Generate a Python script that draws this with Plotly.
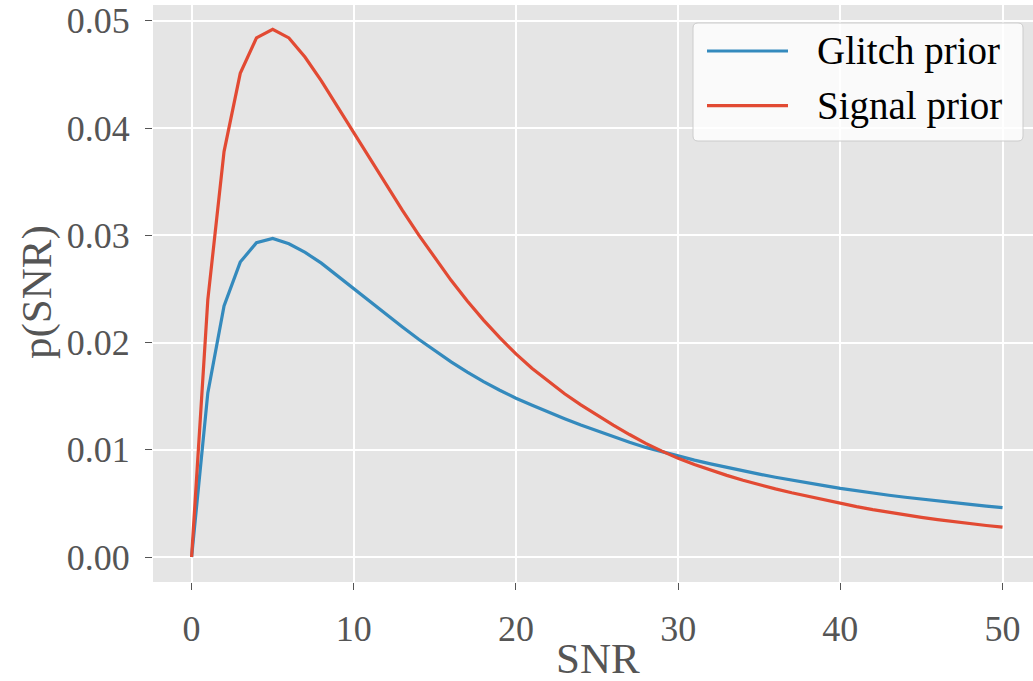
import plotly.graph_objects as go

snr = list(range(0, 51))

glitch_prior = [
    0.0, 0.0153, 0.0234, 0.0275, 0.0293, 0.0297, 0.0292, 0.0284, 0.0274, 0.0262,
    0.02500, 0.02380, 0.02260, 0.02145, 0.02030, 0.01925, 0.01820, 0.01725, 0.01635, 0.01555,
    0.01480, 0.01415, 0.01350, 0.01290, 0.01230, 0.01175, 0.01120, 0.01070, 0.01022, 0.00980,
    0.00940, 0.00903, 0.00868, 0.00835, 0.00803, 0.00773, 0.00744, 0.00716, 0.00690, 0.00665,
    0.00640, 0.00617, 0.00596, 0.00576, 0.00557, 0.00539, 0.00522, 0.00506, 0.00490, 0.00475,
    0.00460,
]

signal_prior = [
    0.0, 0.0240, 0.0378, 0.0451, 0.0484, 0.0492, 0.0484, 0.0466, 0.0444, 0.0420,
    0.03950, 0.03707, 0.03467, 0.03232, 0.03004, 0.02786, 0.02580, 0.02387, 0.02209, 0.02045,
    0.01894, 0.01758, 0.01636, 0.01522, 0.01418, 0.01320, 0.01230, 0.01142, 0.01060, 0.00987,
    0.00920, 0.00863, 0.00810, 0.00761, 0.00715, 0.00673, 0.00635, 0.00599, 0.00565, 0.00532,
    0.00500, 0.00470, 0.00442, 0.00416, 0.00392, 0.00370, 0.00349, 0.00329, 0.00311, 0.00294,
    0.00278,
]

series_names = ["Glitch prior", "Signal prior"]
series_colors = ["#348ABD", "#E24A33"]

FONT = "Liberation Serif"
W, H = 1033, 681
L, R, T, B = 153, 0, 5, 99
PW, PH = W - L - R, H - T - B


def fx(px):
    return (px - L) / PW


def fy(py):
    return (H - B - py) / PH


fig = go.Figure()
for name, vals, col in zip(series_names, [glitch_prior, signal_prior], series_colors):
    fig.add_trace(go.Scatter(x=snr, y=vals, mode="lines", name=name,
                             line=dict(color=col, width=3.2)))

# manual legend (rounded box)
x0, y0, x1, y1, r = 693, 23, 1023, 141, 5
path = (f"M {fx(x0+r)},{fy(y0)} L {fx(x1-r)},{fy(y0)} Q {fx(x1)},{fy(y0)} {fx(x1)},{fy(y0+r)} "
        f"L {fx(x1)},{fy(y1-r)} Q {fx(x1)},{fy(y1)} {fx(x1-r)},{fy(y1)} "
        f"L {fx(x0+r)},{fy(y1)} Q {fx(x0)},{fy(y1)} {fx(x0)},{fy(y1-r)} "
        f"L {fx(x0)},{fy(y0+r)} Q {fx(x0)},{fy(y0)} {fx(x0+r)},{fy(y0)} Z")
shapes = [dict(type="path", path=path, xref="paper", yref="paper",
               fillcolor="rgba(255,255,255,0.8)", line=dict(color="#CCCCCC", width=1))]
annotations = []
for i, (name, col) in enumerate(zip(series_names, series_colors)):
    yy = 51 + i * 54.7
    shapes.append(dict(type="line", xref="paper", yref="paper",
                       x0=fx(707), x1=fx(788), y0=fy(yy), y1=fy(yy),
                       line=dict(color=col, width=3.2)))
    annotations.append(dict(text=name, xref="paper", yref="paper", x=fx(815), y=fy(yy),
                            xanchor="left", yanchor="middle", showarrow=False,
                            font=dict(family=FONT, size=39, color="black")))

annotations.append(dict(text="SNR", xref="paper", yref="paper", x=fx(598), y=fy(658),
                        xanchor="center", yanchor="middle", showarrow=False,
                        font=dict(family=FONT, size=43, color="#555555")))
annotations.append(dict(text="p(SNR)", xref="paper", yref="paper", x=fx(37), y=fy(292),
                        xanchor="center", yanchor="middle", showarrow=False, textangle=-90,
                        font=dict(family=FONT, size=43, color="#555555")))

fig.update_layout(
    width=W, height=H,
    margin=dict(l=L, r=R, t=T, b=B, pad=0),
    paper_bgcolor="white",
    plot_bgcolor="#E5E5E5",
    showlegend=False,
    shapes=shapes,
    annotations=annotations,
    font=dict(family=FONT, color="#555555"),
)
fig.update_xaxes(range=[-2.38, 51.88], dtick=10, tick0=0, showgrid=True, gridcolor="white",
                 gridwidth=1.6, zeroline=False, showline=False, ticks="outside", ticklen=7,
                 tickcolor="#555555", tickwidth=1.2, tickfont=dict(family=FONT, size=36, color="#555555"),
                 ticklabelstandoff=8)
fig.update_yaxes(range=[-0.00233, 0.05147], dtick=0.01, tick0=0, tickformat=".2f", showgrid=True,
                 gridcolor="white", gridwidth=1.6, zeroline=False, showline=False, ticks="outside",
                 ticklen=7, tickcolor="#555555", tickwidth=1.2,
                 tickfont=dict(family=FONT, size=36, color="#555555"), ticklabelstandoff=8)

fig.write_html("out.html")
